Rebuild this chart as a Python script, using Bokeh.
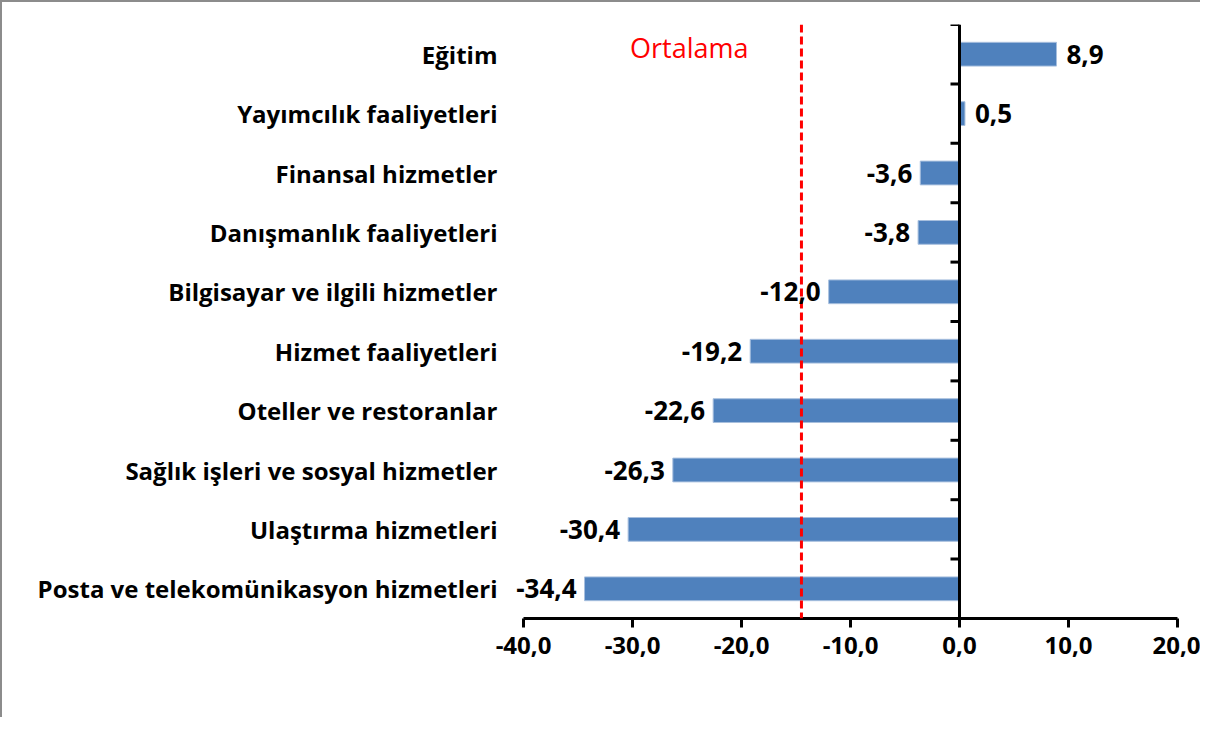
import math
from bokeh.plotting import figure
from bokeh.models import ColumnDataSource, FixedTicker, Span, Range1d, Label, LabelSet
from bokeh.core.properties import value
from bokeh.embed import file_html
from bokeh.resources import INLINE

# ---- data (top to bottom) ----
categories = [
    "Eğitim",
    "Yayımcılık faaliyetleri",
    "Finansal hizmetler",
    "Danışmanlık faaliyetleri",
    "Bilgisayar ve ilgili hizmetler",
    "Hizmet faaliyetleri",
    "Oteller ve restoranlar",
    "Sağlık işleri ve sosyal hizmetler",
    "Ulaştırma hizmetleri",
    "Posta ve telekomünikasyon hizmetleri",
]
values = [8.9, 0.5, -3.6, -3.8, -12.0, -19.2, -22.6, -26.3, -30.4, -34.4]
average = -14.5
x_ticks = [-40, -30, -20, -10, 0, 10, 20]
x_tick_labels = ["-40,0", "-30,0", "-20,0", "-10,0", "0,0", "10,0", "20,0"]

FONT = "Open Sans"
n = len(categories)
ys = [n - i - 0.5 for i in range(n)]
labels = [f"{v:.1f}".replace(".", ",") for v in values]

# layout: the frame spans the full width (labels drawn inside it, unclipped);
# the value axis itself covers 654 px of the 1175 px frame
W, BR = 1200, 25
frame_px = W - BR
axis_px = 654
x_end = x_ticks[-1]
x_start = x_end - (x_ticks[-1] - x_ticks[0]) * frame_px / axis_px

pos = [v >= 0 for v in values]
src_pos = ColumnDataSource(dict(
    y=[y for y, p in zip(ys, pos) if p],
    v=[v for v, p in zip(values, pos) if p],
    t=[t for t, p in zip(labels, pos) if p]))
src_neg = ColumnDataSource(dict(
    y=[y for y, p in zip(ys, pos) if not p],
    v=[v for v, p in zip(values, pos) if not p],
    t=[t for t, p in zip(labels, pos) if not p]))
src_cat = ColumnDataSource(dict(y=ys, c=categories, x=[x_ticks[0]] * n))

p = figure(width=W, height=717, output_backend="svg", toolbar_location=None,
           x_range=Range1d(x_start, x_end), y_range=Range1d(0, n),
           min_border_left=0, min_border_right=BR, min_border_top=22,
           min_border_bottom=101)
p.styles = {"border-left": "2px solid #8c8c8c", "border-top": "2px solid #8c8c8c"}
p.outline_line_color = None
p.grid.visible = False
p.yaxis.visible = False
p.background_fill_color = "white"
p.border_fill_color = "white"

# bars
p.hbar(y="y", right="v", left=0, height=0.4, source=src_pos,
       fill_color="#4F81BD", line_color="#A7BFDE", line_width=1)
p.hbar(y="y", right="v", left=0, height=0.4, source=src_neg,
       fill_color="#4F81BD", line_color="#A7BFDE", line_width=1)

# average line
p.add_layout(Span(location=average, dimension="height", line_color="#FF0000",
                  line_width=3, line_dash="8 4"))
p.add_layout(Label(x=average, y=n, x_offset=-53, y_offset=-4, text="Ortalama",
                   text_align="right", text_baseline="top", text_color="#FF0000",
                   text_font=FONT, text_font_size="27px"))

# y axis line at zero with tick marks at category boundaries
p.add_layout(Span(location=0, dimension="height", line_color="black", line_width=3))
p.ray(x=0, y=list(range(n + 1)), length=9, length_units="screen", angle=math.pi,
      line_color="black", line_width=3)

# category labels
p.add_layout(LabelSet(x="x", y="y", text="c", source=src_cat, x_offset=-26,
                      text_align="right", text_baseline="middle",
                      text_font=value(FONT), text_font_style="bold",
                      text_font_size="24px", text_color="black"))

# value labels
p.add_layout(LabelSet(x="v", y="y", text="t", source=src_pos, x_offset=10,
                      text_align="left", text_baseline="middle",
                      text_font=value(FONT), text_font_style="bold",
                      text_font_size="26px", text_color="black"))
p.add_layout(LabelSet(x="v", y="y", text="t", source=src_neg, x_offset=-8,
                      text_align="right", text_baseline="middle",
                      text_font=value(FONT), text_font_style="bold",
                      text_font_size="26px", text_color="black"))

# x axis
xa = p.xaxis[0]
xa.ticker = FixedTicker(ticks=x_ticks)
xa.bounds = (x_ticks[0], x_ticks[-1])
xa.major_label_overrides = {t: l for t, l in zip(x_ticks, x_tick_labels)}
xa.axis_line_width = 3
xa.axis_line_color = "black"
xa.major_tick_line_width = 3
xa.major_tick_line_color = "black"
xa.major_tick_in = 0
xa.major_tick_out = 9
xa.minor_tick_line_color = None
xa.major_label_text_font = FONT
xa.major_label_text_font_style = "bold"
xa.major_label_text_font_size = "24px"
xa.major_label_text_color = "black"
xa.major_label_standoff = 9

open("out.html", "w").write(file_html(p, INLINE))
